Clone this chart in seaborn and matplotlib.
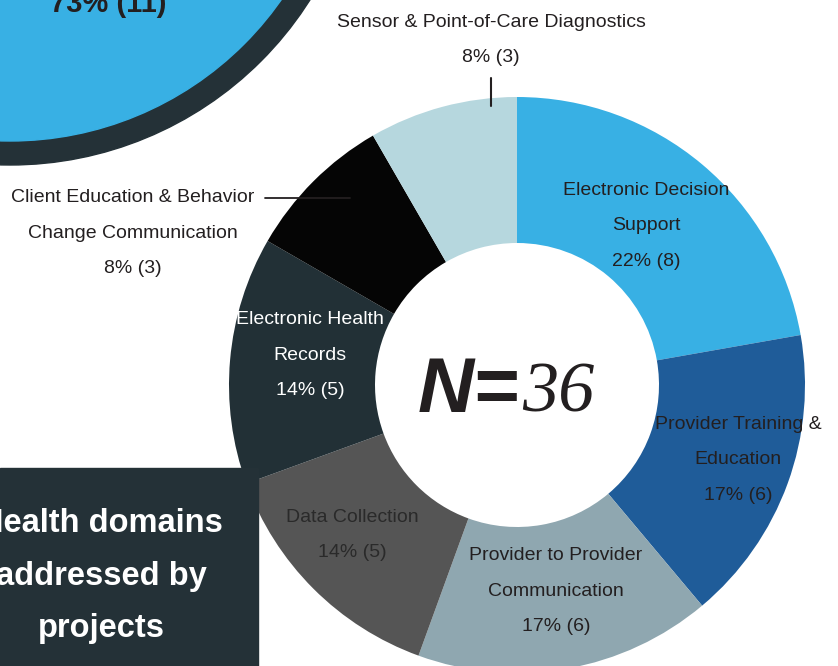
import matplotlib
matplotlib.use("Agg")
import matplotlib.pyplot as plt
from matplotlib.patches import Circle, Rectangle
import seaborn as sns

# donut data, clockwise from 12 o'clock
domains = [
    "Electronic Decision\nSupport",
    "Provider Training &\nEducation",
    "Provider to Provider\nCommunication",
    "Data Collection",
    "Electronic Health\nRecords",
    "Client Education & Behavior\nChange Communication",
    "Sensor & Point-of-Care Diagnostics",
]
counts = [8, 6, 6, 5, 5, 3, 3]
colors = ["#38b0e4", "#1f5c99", "#8fa7b0", "#555555", "#223036", "#050505", "#b6d7de"]
text_colors = ["#231f20", "#231f20", "#231f20", "#2a2a2a", "white", "#231f20", "#231f20"]

total = sum(counts)
other_stat = "73% (11)"
title_lines = ["Health domains", "addressed by", "projects"]

sns.set_style("white")
plt.rcParams["font.family"] = ["Liberation Sans", "DejaVu Sans"]

W, H = 838, 666
fig = plt.figure(figsize=(W / 100, H / 100), dpi=100)
ax = fig.add_axes([0, 0, 1, 1])


def Y(y):
    # picture rows run down, axes run up
    return H - y


cx, cy, R, r_in = 517, 385, 288, 142

ax.pie(counts, colors=sns.color_palette(colors), startangle=90, counterclock=False,
       radius=R, center=(cx, Y(cy)),
       wedgeprops=dict(width=R - r_in, linewidth=0))

# big circle in the top-left corner
ax.add_patch(Circle((10, Y(-190)), 355, color="#243137", zorder=3))
ax.add_patch(Circle((10, Y(-190)), 331, color="#38b0e4", zorder=4))
ax.text(108, Y(12), other_stat, ha="center", va="baseline", fontsize=21,
        fontweight="bold", color="#231f20", zorder=5)

# title box bottom-left
ax.add_patch(Rectangle((0, 0), 258, H - 468, color="#243137", zorder=3))
for i, line in enumerate(title_lines):
    ax.text(101, Y(523 + i * 53), line, ha="center", va="center", fontsize=23.5,
            fontweight="bold", color="white", zorder=5)

# label centres (x, y of block centre) in picture pixels
label_pos = [(646, 226), (738, 460), (556, 591), (352, 535), (310, 355), (133, 233), (491, 40)]
LINE = 35.5
for name, n, (lx, ly), tc in zip(domains, counts, label_pos, text_colors):
    lines = name.split("\n") + [f"{round(100 * n / total)}% ({n})"]
    k = len(lines)
    for i, line in enumerate(lines):
        ax.text(lx, Y(ly + (i - (k - 1) / 2) * LINE), line, ha="center", va="center",
                fontsize=14, color=tc, zorder=6)

# leader lines
ax.plot([491, 491], [Y(78), Y(106)], color="#231f20", lw=1.5, zorder=6)
ax.plot([265, 350], [Y(198), Y(198)], color="#231f20", lw=1.3, zorder=6)

# centre N=36
ax.text(519, Y(412), "N=", ha="right", va="baseline", fontsize=56,
        fontweight="bold", fontstyle="italic", color="#231f20", zorder=6)
ax.text(522, Y(412), str(total), ha="left", va="baseline", fontsize=52,
        fontstyle="italic", family=["Liberation Serif", "DejaVu Serif"],
        color="#231f20", zorder=6)

ax.set_xlim(0, W)
ax.set_ylim(0, H)
ax.set_aspect("equal")
ax.axis("off")

fig.savefig("out.png", dpi=100)
